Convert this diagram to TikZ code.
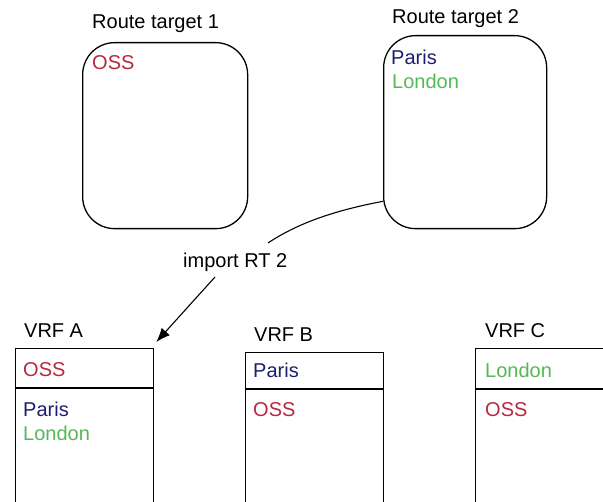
\documentclass[tikz,border=0pt]{standalone}
\usepackage{fontspec}
\setmainfont{Liberation Sans}
\usetikzlibrary{arrows.meta}
\definecolor{ossred}{HTML}{B8283C}
\definecolor{parisblue}{HTML}{1E1E6E}
\definecolor{londongreen}{HTML}{55B855}
\begin{document}
\begin{tikzpicture}[x=1pt,y=-1pt,
  txt/.style={anchor=base west,inner sep=0pt,font=\fontsize{20pt}{24pt}\selectfont},
  rtbox/.style={draw,line width=1.3pt,rounded corners=32pt,anchor=north west,inner sep=0pt},
  vrfbox/.style={draw,line width=1.3pt,anchor=north west,inner sep=0pt,minimum width=138pt,minimum height=200pt},
  conn/.style={line width=1.1pt}]
\useasboundingbox (0,0) rectangle (603,502);
\clip (0,0) rectangle (603,502);
% route targets
\node[txt] (rt1lab) at (92,28.5) {Route target 1};
\node[rtbox,minimum width=165pt,minimum height=186pt] (rt1) at (82,42) {};
\node[txt,text=ossred] (rt1oss) at (92,70) {OSS};
\node[txt] (rt2lab) at (392,23.5) {Route target 2};
\node[rtbox,minimum width=163pt,minimum height=193pt] (rt2) at (383,35) {};
\node[txt,text=parisblue] (rt2paris) at (391,65) {Paris};
\node[txt,text=londongreen] (rt2london) at (392,89) {London};
% import label
\node[txt] (imp) at (183,268) {import RT 2};
% VRF A
\node[txt] (vrfAlab) at (24,338) {VRF A};
\node[vrfbox] (vrfA) at (15,348) {};
\draw[line width=1.3pt] ([yshift=-40pt]vrfA.north west) -- ([yshift=-40pt]vrfA.north east);
\node[txt,text=ossred] (vrfAoss) at (23,377) {OSS};
\node[txt,text=parisblue] (vrfAparis) at (23,417) {Paris};
\node[txt,text=londongreen] (vrfAlondon) at (23,441) {London};
% VRF B
\node[txt] (vrfBlab) at (254,342) {VRF B};
\node[vrfbox] (vrfB) at (245,352) {};
\draw[line width=1.3pt] ([yshift=-37pt]vrfB.north west) -- ([yshift=-37pt]vrfB.north east);
\node[txt,text=parisblue] (vrfBparis) at (253,378) {Paris};
\node[txt,text=ossred] (vrfBoss) at (253,417) {OSS};
% VRF C
\node[txt] (vrfClab) at (485,338) {VRF C};
\node[vrfbox,minimum width=160pt] (vrfC) at (475,348) {};
\draw[line width=1.3pt] ([yshift=-41pt]vrfC.north west) -- ([yshift=-41pt]vrfC.north east);
\node[txt,text=londongreen] (vrfClondon) at (485,378) {London};
\node[txt,text=ossred] (vrfCoss) at (485,417) {OSS};
% connectors
\draw[conn] ([yshift=28pt]rt2.south west) .. controls +(-53,10) and +(27,-18) .. ([shift={(85pt,25pt)}]imp.base west);
\draw[conn,-{Latex[length=14pt,width=11pt]}] ([shift={(32pt,-9pt)}]imp.base west) -- ([shift={(2pt,6pt)}]vrfA.north east);
\end{tikzpicture}
\end{document}
